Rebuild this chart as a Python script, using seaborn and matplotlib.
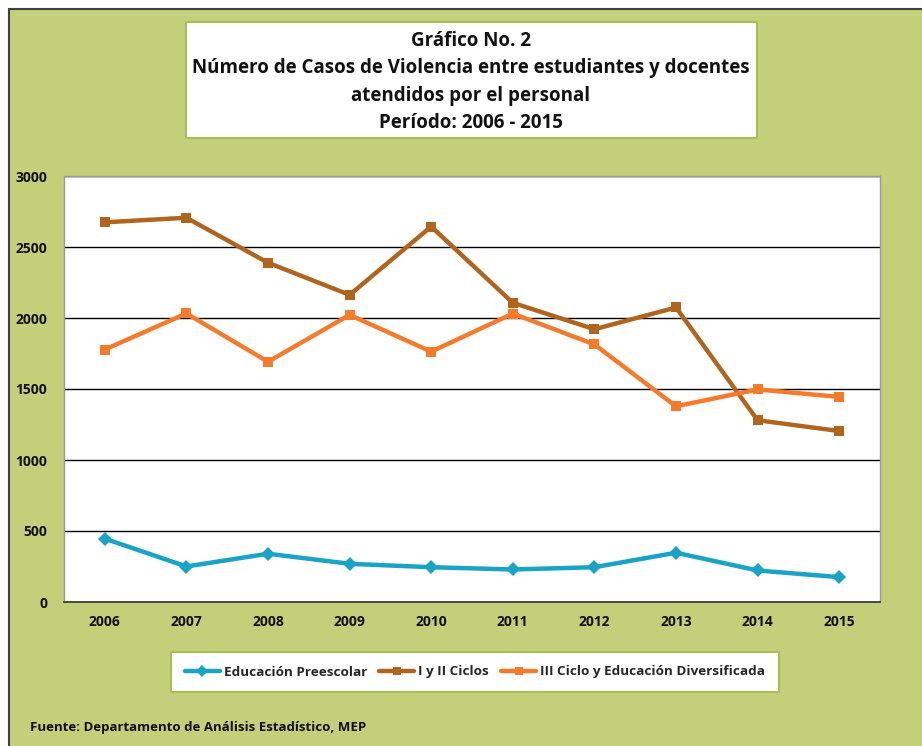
import matplotlib
matplotlib.use("Agg")
import matplotlib.pyplot as plt
import seaborn as sns
import pandas as pd
from matplotlib.patches import Rectangle
from matplotlib.lines import Line2D

years = [2006, 2007, 2008, 2009, 2010, 2011, 2012, 2013, 2014, 2015]
preescolar = [446, 250, 340, 269, 245, 229, 245, 347, 222, 175]
ciclos_1_2 = [2674, 2706, 2389, 2163, 2644, 2107, 1921, 2074, 1280, 1204]
ciclo_3_div = [1778, 2032, 1692, 2022, 1763, 2031, 1814, 1378, 1497, 1444]
series_names = ["Educación Preescolar", "I y II Ciclos", "III Ciclo y Educación Diversificada"]
y_ticks = [0, 500, 1000, 1500, 2000, 2500, 3000]

title_lines = ["Gráfico No. 2",
               "Número de Casos de Violencia entre estudiantes y docentes",
               "atendidos por el personal",
               "Período: 2006 - 2015"]
source_text = "Fuente: Departamento de Análisis Estadístico, MEP"

colors = {series_names[0]: "#18A3C7", series_names[1]: "#B0651F", series_names[2]: "#F47B2B"}
markers = {series_names[0]: "D", series_names[1]: "s", series_names[2]: "s"}

df = pd.DataFrame({
    "Año": years * 3,
    "Casos": preescolar + ciclos_1_2 + ciclo_3_div,
    "Serie": [series_names[0]] * 10 + [series_names[1]] * 10 + [series_names[2]] * 10,
})

sns.set_theme(style="white")
plt.rcParams["font.family"] = ["Open Sans", "DejaVu Sans"]

W, H = 922, 746
fig = plt.figure(figsize=(W / 100, H / 100), dpi=100)
fig.patch.set_facecolor("white")
green = "#C4D079"

# outer green panel with dark border (visible only top-left)
fig.add_artist(Rectangle((9 / W, -0.05), 1.1, 1 - 9 / H + 0.05, transform=fig.transFigure,
                         facecolor=green, edgecolor="#404040", linewidth=1.5, zorder=0))

# title box
tb_x0, tb_y0, tb_x1, tb_y1 = 186, 22, 757, 138
fig.add_artist(Rectangle((tb_x0 / W, 1 - tb_y1 / H), (tb_x1 - tb_x0) / W, (tb_y1 - tb_y0) / H,
                         transform=fig.transFigure, facecolor="white", edgecolor="#A8BE5A",
                         linewidth=1.5, zorder=1))
for i, line in enumerate(title_lines):
    fig.text(471 / W, 1 - (41 + i * 27.5) / H, line, ha="center", va="center",
             fontsize=13.5, fontweight="bold", color="#111111", zorder=2)

ax = fig.add_axes([64 / W, 1 - 602 / H, (880 - 64) / W, (602 - 176) / H])
ax.set_facecolor("white")
sns.lineplot(data=df, x="Año", y="Casos", hue="Serie", style="Serie",
             palette=colors, markers=markers, dashes=False, linewidth=3.2,
             markersize=7, markeredgewidth=0, ax=ax, legend=False, zorder=3)

ax.set_xlim(2005.5, 2015.5)
ax.set_ylim(0, 3000)
ax.set_yticks(y_ticks)
ax.set_xticks(years)
ax.set_xticklabels([str(y) for y in years], fontsize=10, fontweight="bold", color="#111111")
ax.set_yticklabels([str(v) for v in y_ticks], fontsize=10, fontweight="bold", color="#111111")
ax.tick_params(axis="both", length=0)
ax.tick_params(axis="y", pad=12)
ax.tick_params(axis="x", pad=9)
ax.set_xlabel("")
ax.set_ylabel("")
ax.yaxis.grid(True, color="black", linewidth=1.0)
ax.set_axisbelow(True)
for s in ["top", "right", "left"]:
    ax.spines[s].set_color("#9A9A9A")
    ax.spines[s].set_linewidth(1.0)
ax.spines["bottom"].set_color("#333333")
ax.spines["bottom"].set_linewidth(1.2)

# legend
handles = [Line2D([0], [0], color=colors[n], marker=markers[n], linewidth=3.2,
                  markersize=6, markeredgewidth=0) for n in series_names]
leg = fig.legend(handles, series_names, loc="center", bbox_to_anchor=(475 / W, 1 - 672 / H),
                 ncol=3, frameon=True, fancybox=False, handlelength=2.6, handletextpad=0.3,
                 columnspacing=0.9, borderpad=1.0,
                 prop={"size": 9.7, "weight": "bold"})
leg.get_frame().set_edgecolor("#A8BE5A")
leg.get_frame().set_linewidth(1.5)
leg.get_frame().set_facecolor("white")
leg.get_frame().set_alpha(1)

fig.text(30 / W, 1 - 728 / H, source_text, ha="left", va="center",
         fontsize=9.5, fontweight="bold", color="#111111")

fig.savefig("out.png", dpi=100, facecolor=fig.get_facecolor())
